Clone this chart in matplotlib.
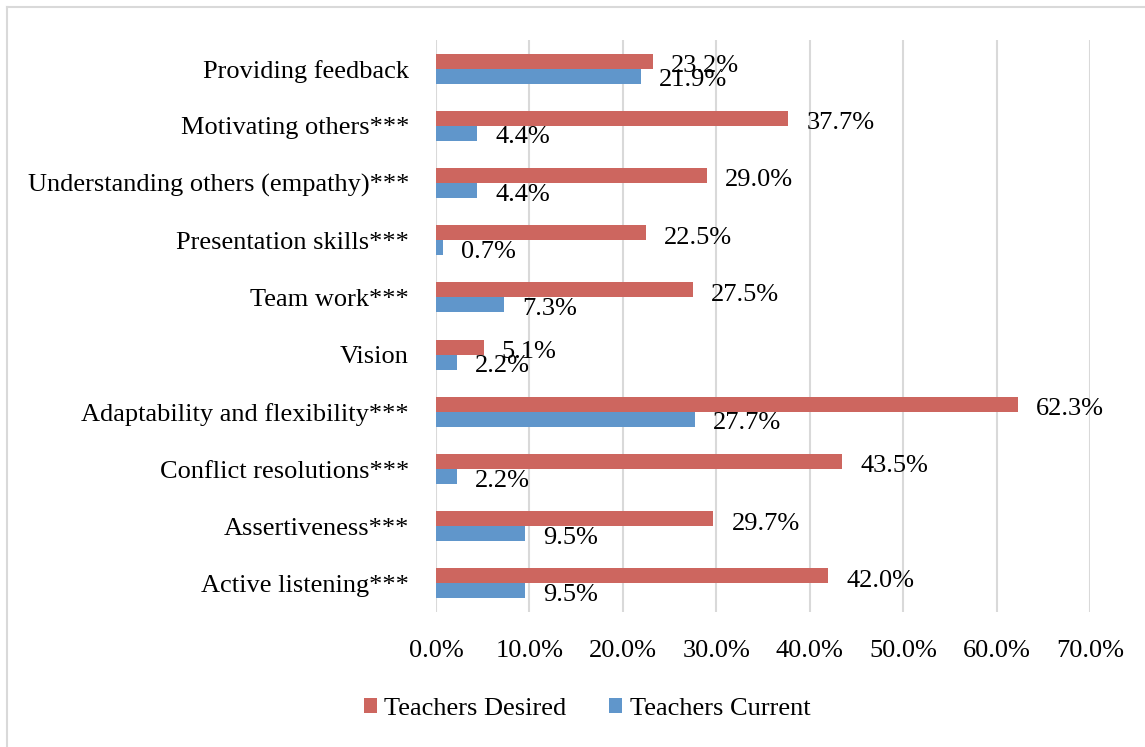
import matplotlib
matplotlib.use("Agg")
import matplotlib.pyplot as plt
import numpy as np
from matplotlib.lines import Line2D

categories = ["Providing feedback", "Motivating others***", "Understanding others (empathy)***",
              "Presentation skills***", "Team work***", "Vision",
              "Adaptability and flexibility***", "Conflict resolutions***",
              "Assertiveness***", "Active listening***"]
desired = [23.2, 37.7, 29.0, 22.5, 27.5, 5.1, 62.3, 43.5, 29.7, 42.0]
current = [21.9, 4.4, 4.4, 0.7, 7.3, 2.2, 27.7, 2.2, 9.5, 9.5]
xticks = [0, 10, 20, 30, 40, 50, 60, 70]
series_names = ["Teachers Desired", "Teachers Current"]

red = "#CD665F"
blue = "#6096CB"
plt.rcParams["font.family"] = ["Liberation Serif", "DejaVu Serif"]
FS = 19

fig = plt.figure(figsize=(11.45, 7.47), dpi=100)
ax = fig.add_axes([436/1145, 1-612/747, (1090-436)/1145, (612-40)/747])

n = len(categories)
y = np.arange(n)[::-1].astype(float)
h = 0.262
rb = ax.barh(y + h/2, desired, height=h, color=red, label=series_names[0])
bb = ax.barh(y - h/2, current, height=h, color=blue, label=series_names[1])

for yy, v in zip(y + h/2, desired):
    ax.annotate(f"{v:.1f}%", (v, yy), xytext=(13, -3.5), textcoords="offset points",
                ha="left", va="center", fontsize=FS)
for yy, v in zip(y - h/2, current):
    ax.annotate(f"{v:.1f}%", (v, yy), xytext=(13, -3), textcoords="offset points",
                ha="left", va="center", fontsize=FS)

ax.set_xlim(0, 70)
ax.set_ylim(-0.5, n - 0.5)
ax.set_xticks(xticks)
ax.set_xticklabels([f"{t:.1f}%" for t in xticks], fontsize=FS)
ax.set_yticks(y)
ax.set_yticklabels(categories, fontsize=FS)
ax.tick_params(axis="both", length=0)
ax.tick_params(axis="x", pad=20)
ax.tick_params(axis="y", pad=19.5)
for s in ax.spines.values():
    s.set_visible(False)
ax.grid(axis="x", color="#D9D9D9", linewidth=1.5)
ax.set_axisbelow(True)

fig.legend(handles=[rb, bb], labels=series_names, loc="center", bbox_to_anchor=(587/1145, 1-709/747),
           ncol=2, frameon=False, fontsize=FS, handlelength=0.49, handleheight=0.49,
           handletextpad=0.3, columnspacing=1.6)

fig.add_artist(Line2D([6.5/1145, 6.5/1145], [0, 1-6.5/747], transform=fig.transFigure, color="#D9D9D9", linewidth=1.5))
fig.add_artist(Line2D([6.5/1145, 1], [1-6.5/747, 1-6.5/747], transform=fig.transFigure, color="#D9D9D9", linewidth=1.5))

fig.savefig("out.png", dpi=100)
